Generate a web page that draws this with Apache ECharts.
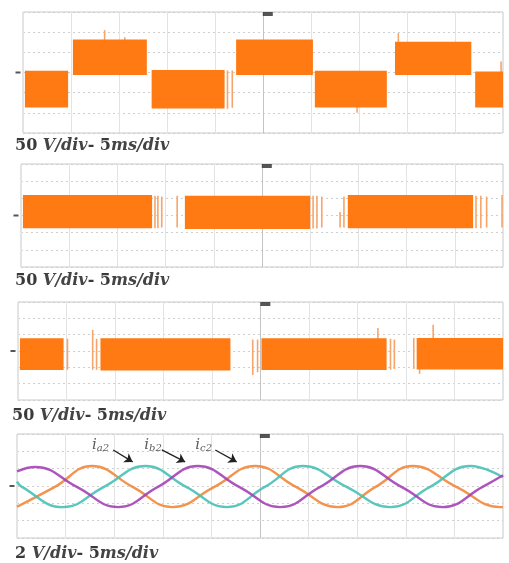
<!DOCTYPE html>
<html>
<head>
<meta charset="utf-8">
<script src="https://cdn.jsdelivr.net/npm/echarts@6/dist/echarts.min.js"></script>
<style>
html, body { margin: 0; padding: 0; background: #fff; }
#chart { width: 509px; height: 563px; }
</style>
</head>
<body>
<div id="chart"></div>
<script>
// time in ms (10 div x 5 ms), amplitude in divisions (6 div per screen)

// PWM envelopes: [start ms, end ms, low div, high div]
var blocks1 = [
    [0.2, 4.7, -1.73, 0.09],
    [5.2, 12.9, -0.12, 1.64],
    [13.4, 21.0, -1.78, 0.12],
    [22.2, 30.2, -0.12, 1.64],
    [30.4, 37.9, -1.73, 0.09],
    [38.75, 46.7, -0.12, 1.52],
    [47.1, 50, -1.73, 0.05]
];
// thin spikes / stray pulses: [ms, low, high]
var spikes1 = [
    [8.5, 1.5, 2.1], [10.6, 1.5, 1.75], [21.3, -1.8, 0.1], [21.8, -1.75, 0.1],
    [34.8, -2.0, -1.6], [39.1, 1.4, 1.95], [49.8, -1.7, 0.55]
];

var blocks2 = [
    [0.2, 13.6, -0.74, 1.19],
    [17.0, 30.0, -0.79, 1.15],
    [33.9, 46.9, -0.74, 1.19]
];
var spikes2 = [
    [13.9, -0.74, 1.15], [14.2, -0.74, 1.15], [14.6, -0.7, 1.1], [16.2, -0.7, 1.15],
    [30.3, -0.75, 1.15], [30.7, -0.75, 1.15], [31.2, -0.7, 1.1],
    [33.1, -0.7, 0.2], [33.5, -0.7, 1.1],
    [47.2, -0.74, 1.15], [47.7, -0.74, 1.15], [48.3, -0.7, 1.1], [49.9, -0.7, 1.2]
];

var blocks3 = [
    [0.2, 4.7, -1.16, 0.78],
    [8.5, 21.9, -1.2, 0.78],
    [25.1, 38.0, -1.16, 0.78],
    [41.1, 50, -1.14, 0.8]
];
var spikes3 = [
    [5.1, -1.15, 0.75], [7.7, -1.15, 1.29], [8.1, -1.15, 0.75],
    [24.2, -1.47, 0.7], [24.7, -1.3, 0.7], [37.1, 0.7, 1.41],
    [38.4, -1.15, 0.75], [38.8, -1.1, 0.7], [40.8, -1.1, 0.8],
    [41.4, -1.4, 0.8], [42.8, 0.7, 1.6]
];

// phase currents, read at peaks, troughs and crossings: [ms, div]
var iA2 = [
    [0, 0.25], [0.5, -0.05], [4.7, -1.22], [8.95, -0.05], [13.2, 1.15],
    [17.4, -0.05], [21.6, -1.22], [25.5, -0.05], [29.4, 1.15], [33.9, -0.05],
    [38.4, -1.22], [42.5, -0.05], [46.6, 1.15], [50, 0.5]
];
var iB2 = [
    [0, 0.85], [1.9, 1.1], [6.15, -0.05], [10.4, -1.22], [14.5, -0.05],
    [18.6, 1.15], [22.85, -0.05], [27.1, -1.22], [31.2, -0.05], [35.3, 1.15],
    [39.55, -0.05], [43.8, -1.22], [47.9, -0.05], [50, 0.62]
];
var iC2 = [
    [0, -1.2], [3.9, -0.05], [7.7, 1.15], [11.9, -0.05], [16.0, -1.22],
    [20.3, -0.05], [24.5, 1.15], [28.7, -0.05], [33.0, -1.22], [36.9, -0.05],
    [40.7, 1.15], [45.2, -0.05], [49.7, -1.22], [50, -1.22]
];

// current labels with arrows: [name, label ms, label div, arrow from ms, div, to ms, div]
var arrows = [
    ['a2', 8.6, 2.37, 9.9, 2.08, 11.9, 1.39],
    ['b2', 14.0, 2.37, 14.9, 2.08, 17.3, 1.39],
    ['c2', 19.2, 2.37, 20.4, 2.08, 22.6, 1.39]
];

var voltsPerDiv = ['50', '50', '50', '2'];
var triggerT = 25.5;

var ORANGE = '#ff7a12';
var ORANGE_LIGHT = '#f7a46a';
var TEAL = '#47c1b6';
var PURPLE = '#a443b6';
var SINE_ORANGE = '#f2873a';

var grids = [
    { left: 23, right: 6, top: 12, height: 121 },
    { left: 21, right: 6, top: 164, height: 103 },
    { left: 18, right: 6, top: 302, height: 98 },
    { left: 17, right: 6, top: 434, height: 104 }
];
var labelPos = [
    { left: 15, top: 138 },
    { left: 15, top: 273 },
    { left: 12, top: 408 },
    { left: 15, top: 546 }
];

function renderBlock(params, api) {
    var p0 = api.coord([api.value(0), api.value(3)]);
    var p1 = api.coord([api.value(1), api.value(2)]);
    return {
        type: 'rect',
        shape: { x: p0[0], y: p0[1], width: p1[0] - p0[0], height: p1[1] - p0[1] },
        style: { fill: ORANGE }
    };
}
function renderSpike(params, api) {
    var a = api.coord([api.value(0), api.value(1)]);
    var b = api.coord([api.value(0), api.value(2)]);
    return {
        type: 'line',
        shape: { x1: a[0], y1: a[1], x2: b[0], y2: b[1] },
        style: { stroke: ORANGE_LIGHT, lineWidth: 1.6 }
    };
}

var xAxes = [], yAxes = [], series = [], titles = [];
grids.forEach(function (g, i) {
    g.show = true;
    g.borderColor = '#c9c9c9';
    g.borderWidth = 1;
    xAxes.push({
        type: 'value', gridIndex: i, min: 0, max: 50, interval: 5,
        axisLine: { show: false }, axisTick: { show: false }, axisLabel: { show: false },
        splitLine: { show: true, lineStyle: { color: '#e3e3e3', width: 1 } }
    });
    yAxes.push({
        type: 'value', gridIndex: i, min: -3, max: 3, interval: 1,
        axisLine: { show: false }, axisTick: { show: false }, axisLabel: { show: false },
        splitLine: { show: true, lineStyle: { color: '#cfcfcf', type: [2, 3], width: 1 } }
    });
    // scope markers: trigger at top, channel ground at left, centre graticule
    series.push({
        type: 'scatter', xAxisIndex: i, yAxisIndex: i, silent: true, z: 1,
        data: [[triggerT, 3]],
        symbol: 'rect', symbolSize: [10, 4], symbolOffset: [0, 2],
        itemStyle: { color: '#2a2a2a' },
        markLine: {
            silent: true, symbol: 'none', label: { show: false }, z: 1,
            lineStyle: { color: '#c4c4c4', type: 'solid', width: 1 },
            data: [{ xAxis: triggerT - 0.5 }]
        },
        markPoint: {
            symbol: 'rect', symbolSize: [5, 2], symbolOffset: [-5, 0],
            itemStyle: { color: '#555' }, label: { show: false },
            data: [{ coord: [0, 0] }]
        }
    });
    titles.push({
        text: '{n|' + voltsPerDiv[i] + ' }{it|V/div}{n|- 5}{it|ms/div}',
        left: labelPos[i].left, top: labelPos[i].top, padding: 0,
        textStyle: {
            rich: {
                n: { fontFamily: 'DejaVu Serif', fontSize: 16, color: '#3a3a3a', fontWeight: 'bold' },
                it: { fontFamily: 'DejaVu Serif', fontSize: 16, color: '#444', fontStyle: 'italic' }
            }
        }
    });
});

var blockSets = [blocks1, blocks2, blocks3];
var spikeSets = [spikes1, spikes2, spikes3];
blockSets.forEach(function (b, i) {
    series.push({
        type: 'custom', xAxisIndex: i, yAxisIndex: i, renderItem: renderBlock, clip: true,
        encode: { x: [0, 1], y: [2, 3] }, data: b, z: 3
    });
    series.push({
        type: 'custom', xAxisIndex: i, yAxisIndex: i, renderItem: renderSpike, clip: true,
        encode: { x: 0, y: [1, 2] }, data: spikeSets[i], z: 2
    });
});

function sineSeries(data, color) {
    return {
        type: 'line', xAxisIndex: 3, yAxisIndex: 3, data: data, smooth: 0.45,
        showSymbol: false, silent: true, z: 3,
        lineStyle: { color: color, width: 2.4, opacity: 0.9 }
    };
}
series.push(sineSeries(iC2, SINE_ORANGE));
series.push(sineSeries(iA2, TEAL));
series.push(sineSeries(iB2, PURPLE));

var richSub = {
    i: { fontFamily: 'DejaVu Serif', fontSize: 15, fontStyle: 'italic', color: '#333' },
    s: { fontFamily: 'DejaVu Serif', fontSize: 10, fontStyle: 'italic', color: '#333', padding: [6, 0, 0, 0] }
};
series.push({
    type: 'scatter', xAxisIndex: 3, yAxisIndex: 3, silent: true, z: 5,
    symbolSize: 0,
    data: arrows.map(function (a) { return { value: [a[1], a[2]], name: a[0] }; }),
    label: {
        show: true, position: 'inside',
        formatter: function (p) { return '{i|i}{s|' + p.name + '}'; },
        rich: richSub
    },
    markLine: {
        silent: true, symbol: ['none', 'arrow'], symbolSize: 8,
        label: { show: false },
        lineStyle: { color: '#222', type: 'solid', width: 1.3 },
        data: arrows.map(function (a) { return [{ coord: [a[3], a[4]] }, { coord: [a[5], a[6]] }]; })
    }
});

var chart = echarts.init(document.getElementById('chart'));
chart.setOption({
    animation: false,
    backgroundColor: '#fff',
    title: titles,
    grid: grids,
    xAxis: xAxes,
    yAxis: yAxes,
    series: series
});
</script>
</body>
</html>
